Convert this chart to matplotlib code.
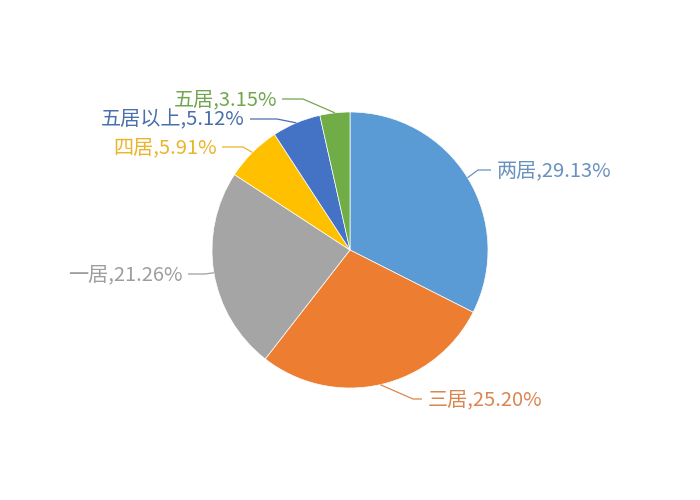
import numpy as np
import matplotlib
matplotlib.use('Agg')
import matplotlib.pyplot as plt

plt.rcParams['font.family'] = ['Noto Sans CJK SC', 'DejaVu Sans']

## data
rooms = ['两居', '三居', '一居', '四居', '五居以上', '五居']
shares = [29.13, 25.20, 21.26, 5.91, 5.12, 3.15]
colors = ['#5B9BD5', '#ED7D31', '#A5A5A5', '#FFC000', '#4472C4', '#70AD47']
text_colors = ['#6A92BE', '#DB8650', '#9E9E9E', '#E9B52A', '#4A6FAE', '#72A550']

## label layout (pixels from top-left): text anchor, elbow x
label_pos = [(497, 171), (428, 400), (183, 275), (217, 148), (245, 120), (277, 100)]
elbow_x = [478, 413, 205, 243, 277, 303]

W, H = 700, 500
fig = plt.figure(figsize=(7, 5), dpi=100)
ax = fig.add_axes([0, 0, 1, 1])
cx, cy, R = 350, 250, 138

wedges, _ = ax.pie(shares, colors=colors, startangle=90, counterclock=False,
                   center=(cx, H - cy), radius=R,
                   wedgeprops=dict(edgecolor='white', linewidth=0.5))

for w, name, val, (tx, ty), ex, tc in zip(wedges, rooms, shares, label_pos, elbow_x, text_colors):
    mid = np.deg2rad((w.theta1 + w.theta2) / 2)
    px, py = cx + R * np.cos(mid), (H - cy) + R * np.sin(mid)
    right = tx > cx
    ty_up = H - ty
    hx = tx - 6 if right else tx + 5
    ax.plot([px, ex, hx], [py, ty_up + 1, ty_up + 1], color=tc, lw=0.9,
            solid_capstyle='butt')
    ax.text(tx, ty_up, '%s,%.2f%%' % (name, val), color=tc, fontsize=14.5,
            fontweight='light', ha='left' if right else 'right', va='center')

ax.set_xlim(0, W)
ax.set_ylim(0, H)
ax.set_aspect('equal')
ax.set_axis_off()
fig.savefig('out.png', dpi=100)
